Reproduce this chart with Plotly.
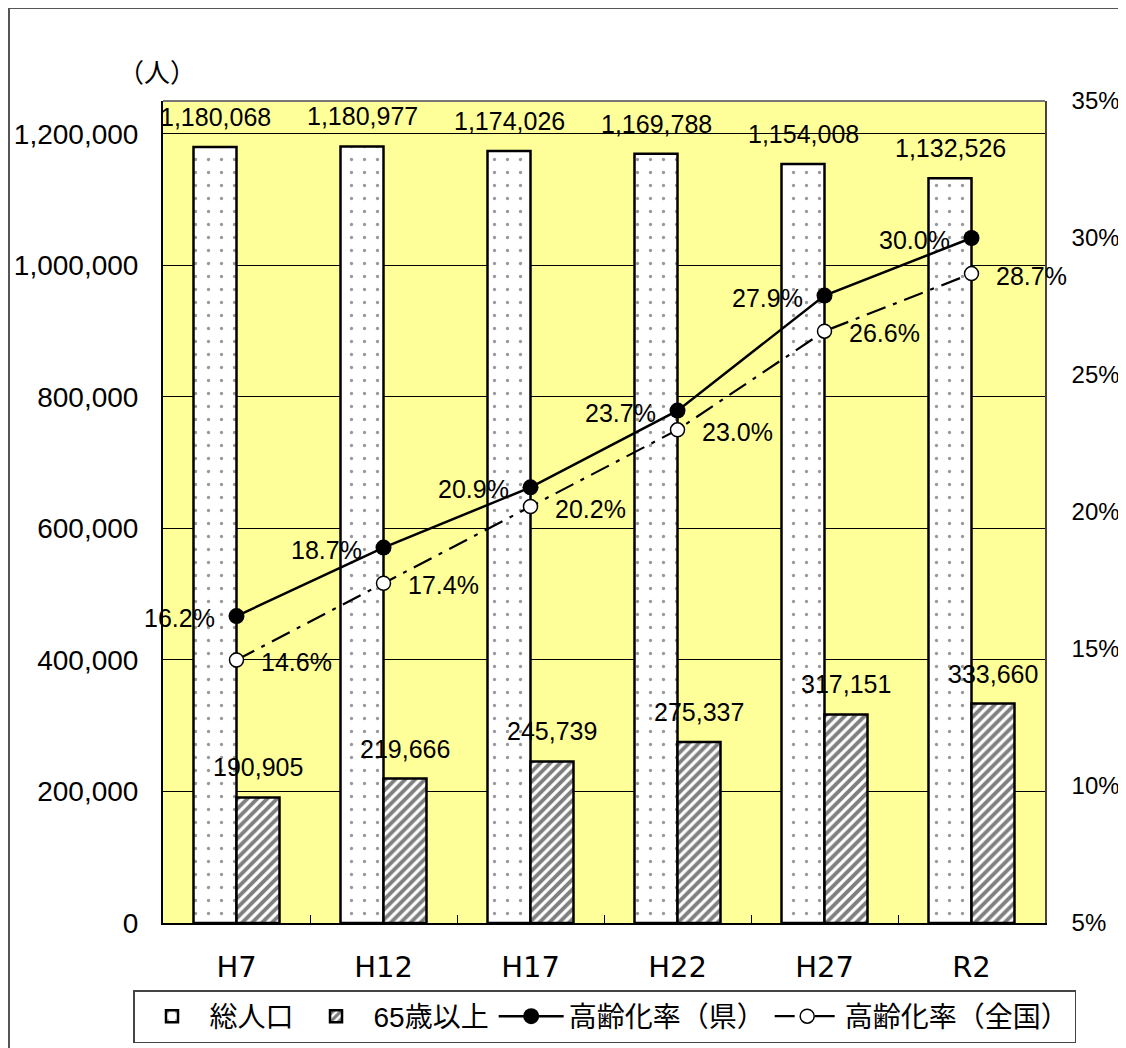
import plotly.graph_objects as go

categories = ["H7", "H12", "H17", "H22", "H27", "R2"]
total_pop = [1180068, 1180977, 1174026, 1169788, 1154008, 1132526]
aged_65 = [190905, 219666, 245739, 275337, 317151, 333660]
rate_pref = [16.2, 18.7, 20.9, 23.7, 27.9, 30.0]
rate_nat = [14.6, 17.4, 20.2, 23.0, 26.6, 28.7]

FONT = "Liberation Sans, Noto Sans CJK JP, sans-serif"

# the page body adds an 8px margin, so work in page pixels minus 8
OFF = 8
W, H = 1126 - OFF, 1048 - OFF
L, R, T, B = 163 - OFF, 1045 - OFF, 101 - OFF, 923 - OFF


def px_x(px):
    return (px - OFF - L) / (R - L)


def px_y(py):
    return (B - (py - OFF)) / (B - T)


fig = go.Figure()

fig.add_trace(go.Bar(
    x=categories, y=total_pop, name="総人口",
    marker=dict(color="white", line=dict(color="black", width=2.5),
                pattern=dict(shape=".", fgcolor="#333333", bgcolor="white",
                             size=13, solidity=0.05)),
    offsetgroup="a", yaxis="y",
))
fig.add_trace(go.Bar(
    x=categories, y=aged_65, name="65歳以上",
    marker=dict(color="white", line=dict(color="black", width=2.5),
                pattern=dict(shape="/", fgcolor="black", bgcolor="white",
                             size=7, solidity=0.55)),
    offsetgroup="b", yaxis="y",
))

fig.add_trace(go.Scatter(
    x=categories, y=rate_pref, name="高齢化率（県）",
    mode="lines+markers",
    line=dict(color="black", width=2.5),
    marker=dict(symbol="circle", size=16, color="black"),
    yaxis="y2",
))
fig.add_trace(go.Scatter(
    x=categories, y=rate_nat, name="高齢化率（全国）",
    mode="lines+markers",
    line=dict(color="black", width=2.2, dash="20px,8px,4px,8px"),
    marker=dict(symbol="circle", size=14, color="white",
                line=dict(color="black", width=1.5)),
    yaxis="y2",
))

annotations = []
lab_font = dict(family=FONT, size=25, color="black")
# bar value labels
for c, v in zip(categories, total_pop):
    annotations.append(dict(x=c, y=v, xref="x", yref="y", text=f"{v:,}",
                            showarrow=False, xshift=-21, yshift=30,
                            font=lab_font))
for c, v in zip(categories, aged_65):
    annotations.append(dict(x=c, y=v, xref="x", yref="y", text=f"{v:,}",
                            showarrow=False, xshift=21, yshift=30,
                            font=lab_font))
# rate labels
for c, v in zip(categories, rate_pref):
    annotations.append(dict(x=c, y=v, xref="x", yref="y2", text=f"{v:.1f}%",
                            showarrow=False, xanchor="right", xshift=-20,
                            yshift=-2, font=lab_font))
for c, v in zip(categories, rate_nat):
    annotations.append(dict(x=c, y=v, xref="x", yref="y2", text=f"{v:.1f}%",
                            showarrow=False, xanchor="left", xshift=22,
                            yshift=-2, font=lab_font))
annotations.append(dict(x=px_x(157), y=px_y(70), xref="paper", yref="paper",
                        xanchor="center", yanchor="middle",
                        text="（人）", showarrow=False,
                        font=dict(family="Noto Sans CJK JP", size=26,
                                  color="black")))

shapes = [dict(type="rect", xref="paper", yref="paper",
               x0=px_x(9), x1=px_x(1123), y0=px_y(1080), y1=px_y(8),
               line=dict(color="#555555", width=2), layer="below"),
          dict(type="line", xref="paper", yref="paper", x0=0, x1=1, y0=1, y1=1,
               line=dict(color="#777777", width=2))]

fig.update_layout(
    width=W, height=H,
    margin=dict(l=L, r=W - R, t=T, b=H - B, autoexpand=False),
    paper_bgcolor="white",
    plot_bgcolor="#FFFF99",
    barmode="group",
    bargap=0.415,
    bargroupgap=0,
    font=dict(family=FONT, size=24, color="black"),
    showlegend=True,
    legend=dict(orientation="h", x=px_x(133), y=px_y(990),
                xanchor="left", yanchor="top",
                bordercolor="#444444", borderwidth=1.5,
                bgcolor="white", font=dict(family=FONT, size=28),
                itemwidth=65, traceorder="normal"),
    xaxis=dict(type="category", range=[-0.5, len(categories) - 0.5],
               showline=True, linecolor="black", linewidth=2,
               mirror=False, ticks="inside", ticklen=8, tickcolor="black",
               tickson="boundaries", showgrid=False, automargin=False,
               tickfont=dict(family="DejaVu Sans", size=29),
               ticklabelstandoff=17),
    yaxis=dict(range=[0, 1250000], dtick=200000, tickformat=",d",
               showgrid=True, gridcolor="black", gridwidth=1,
               showline=True, linecolor="black", linewidth=2,
               ticks="", zeroline=False, automargin=False,
               tickfont=dict(family=FONT, size=28), ticklabelstandoff=17),
    yaxis2=dict(range=[5, 35], dtick=5, ticksuffix="%", overlaying="y",
                side="right", showgrid=False, showline=True,
                linecolor="#444444", linewidth=1.5, ticks="",
                zeroline=False, automargin=False,
                tickfont=dict(family=FONT, size=24), ticklabelstandoff=20),
    annotations=annotations,
    shapes=shapes,
)

fig.write_html("out.html")
